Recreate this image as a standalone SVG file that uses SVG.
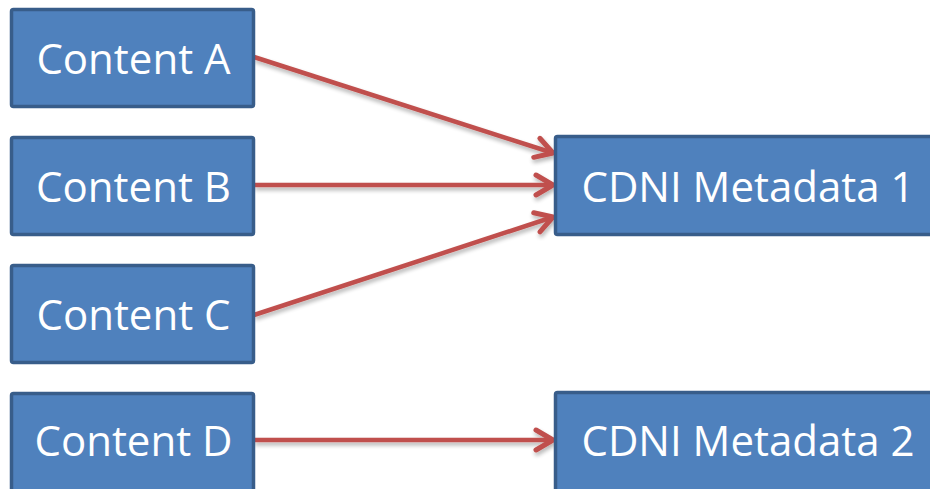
<svg xmlns="http://www.w3.org/2000/svg" width="930" height="489" viewBox="0 0 930 489">
<defs>
<style>
.box{fill:#4f81bd;stroke:#385d8a;stroke-width:3.5}
.lbl{font-family:"Open Sans","Liberation Sans",sans-serif;font-size:42px;fill:#ffffff;text-anchor:middle}
.conn{stroke:#c0504d;stroke-width:4.5;fill:none;marker-end:url(#arr)}
</style>
<marker id="arr" markerUnits="userSpaceOnUse" viewBox="-22 -14 26 28" refX="0" refY="0" markerWidth="26" markerHeight="28" orient="auto">
<path d="M -17 -10 L 0 0 L -17 10" fill="none" stroke="#c0504d" stroke-width="5" stroke-linecap="round" stroke-linejoin="round"/>
</marker>
<filter id="sh" x="-10%" y="-50%" width="120%" height="200%">
<feGaussianBlur in="SourceAlpha" stdDeviation="2"/>
<feOffset dx="1" dy="3"/>
<feComponentTransfer><feFuncA type="linear" slope="0.3"/></feComponentTransfer>
<feMerge><feMergeNode/><feMergeNode in="SourceGraphic"/></feMerge>
</filter>
</defs>
<rect width="930" height="489" fill="#ffffff"/>
<g id="connectors" filter="url(#sh)">
<line class="conn" x1="254" y1="57" x2="553" y2="153"/>
<line class="conn" x1="254" y1="185" x2="553" y2="185"/>
<line class="conn" x1="254" y1="315" x2="553" y2="217"/>
<line class="conn" x1="254" y1="440" x2="553" y2="440"/>
</g>
<g id="contentA"><rect class="box" x="11.5" y="9.5" width="242" height="97" rx="2"/><text class="lbl" x="133.5" y="74">Content A</text></g>
<g id="contentB"><rect class="box" x="11.5" y="137.5" width="242" height="97" rx="2"/><text class="lbl" x="133.5" y="202">Content B</text></g>
<g id="contentC"><rect class="box" x="11.5" y="265.5" width="242" height="97" rx="2"/><text class="lbl" x="133.5" y="330">Content C</text></g>
<g id="contentD"><rect class="box" x="11.5" y="393.5" width="242" height="100" rx="2"/><text class="lbl" x="133.5" y="456">Content D</text></g>
<g id="cdni1"><rect class="box" x="555.5" y="136.5" width="390" height="98" rx="2"/><text class="lbl" x="748" y="202">CDNI Metadata 1</text></g>
<g id="cdni2"><rect class="box" x="555.5" y="392.5" width="390" height="100" rx="2"/><text class="lbl" x="748" y="456">CDNI Metadata 2</text></g>
</svg>
